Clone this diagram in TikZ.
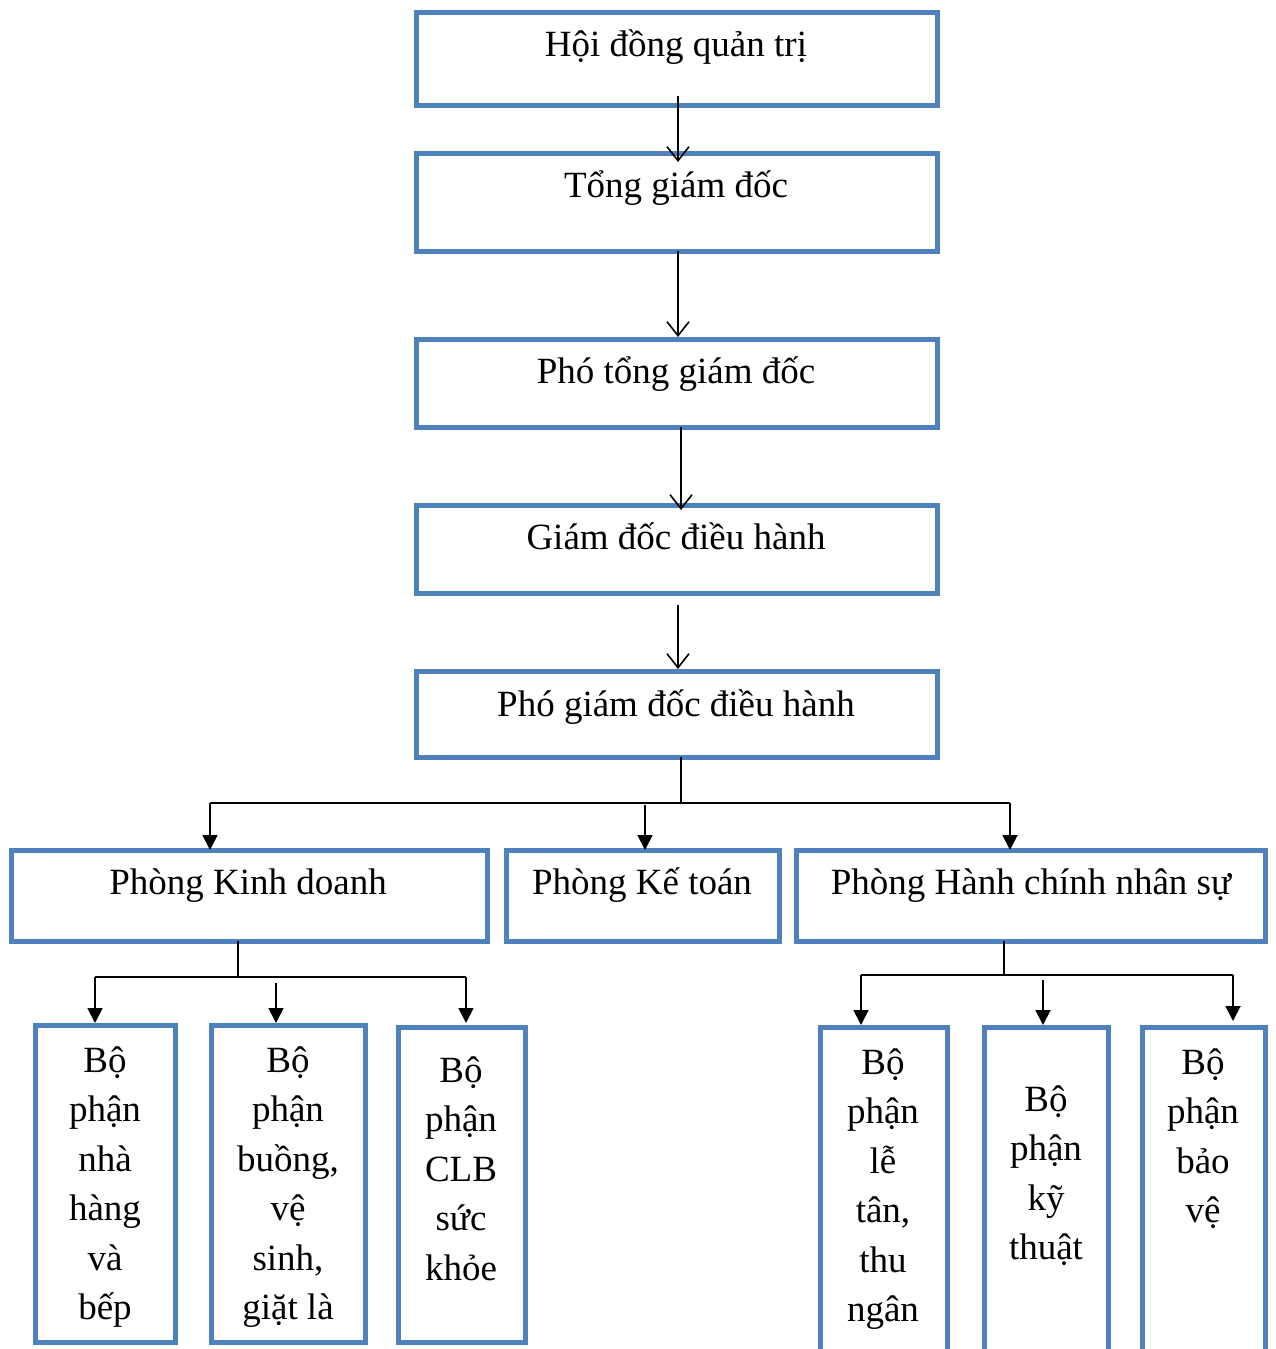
\documentclass[tikz,border=0pt]{standalone}
\usepackage{fontspec}
\setmainfont{Liberation Serif}
\usetikzlibrary{arrows.meta}
\definecolor{boxblue}{HTML}{4F81BD}
\newcommand\vstack[1]{\begin{tabular}[t]{@{}c@{}}#1\end{tabular}}
\begin{document}
\begin{tikzpicture}[x=1pt,y=-1pt,
  box/.style={draw=boxblue,line width=5pt,anchor=north west,inner sep=0pt,outer sep=0pt},
  txt/.style={font=\fontsize{37}{49.5}\selectfont,inner sep=0pt,anchor=base},
  conn/.style={line width=1.8pt,black},
  openarr/.style={conn,-{Straight Barb[length=14pt,width=22pt,line width=1.6pt]}},
  fillarr/.style={conn,-{Triangle[length=15pt,width=15pt]}}]
\useasboundingbox (0,0) rectangle (1275,1349);
\clip (0,0) rectangle (1275,1349);
% top chain
\node[box,minimum width=521pt,minimum height=93pt] (b1) at (416,12) {};
\node[box,minimum width=521pt,minimum height=98pt] (b2) at (416,153) {};
\node[box,minimum width=521pt,minimum height=88pt] (b3) at (416,339) {};
\node[box,minimum width=521pt,minimum height=88pt] (b4) at (416,505) {};
\node[box,minimum width=521pt,minimum height=86pt] (b5) at (416,671) {};
% departments
\node[box,minimum width=476pt,minimum height=91pt] (pkd) at (11,850) {};
\node[box,minimum width=273pt,minimum height=91pt] (pkt) at (506,850) {};
\node[box,minimum width=469pt,minimum height=91pt] (phc) at (796,850) {};
% sections
\node[box,minimum width=140pt,minimum height=317pt] (bA) at (35,1025) {};
\node[box,minimum width=154pt,minimum height=317pt] (bB) at (211,1025) {};
\node[box,minimum width=127pt,minimum height=315pt] (bC) at (398,1027) {};
\node[box,minimum width=127pt,minimum height=340pt] (bD) at (820,1027) {};
\node[box,minimum width=124pt,minimum height=340pt] (bE) at (984,1027) {};
\node[box,minimum width=123pt,minimum height=340pt] (bF) at (1142,1027) {};
% texts
\node[txt] (t1) at (676,56) {Hội đồng quản trị};
\node[txt] (t2) at (676,197) {Tổng giám đốc};
\node[txt] (t3) at (676,383) {Phó tổng giám đốc};
\node[txt] (t4) at (676,549) {Giám đốc điều hành};
\node[txt] (t5) at (676,716) {Phó giám đốc điều hành};
\node[txt] (tkd) at (248,894) {Phòng Kinh doanh};
\node[txt] (tkt) at (642,894) {Phòng Kế toán};
\node[txt] (thc) at (1031,894) {Phòng Hành chính nhân sự};
\node[txt] (tA) at (105,1072) {\vstack{Bộ\\phận\\nhà\\hàng\\và\\bếp}};
\node[txt] (tB) at (288,1072) {\vstack{Bộ\\phận\\buồng,\\vệ\\sinh,\\giặt là}};
\node[txt] (tC) at (461,1082) {\vstack{Bộ\\phận\\CLB\\sức\\khỏe}};
\node[txt] (tD) at (883,1074) {\vstack{Bộ\\phận\\lễ\\tân,\\thu\\ngân}};
\node[txt] (tE) at (1046,1111) {\vstack{Bộ\\phận\\kỹ\\thuật}};
\node[txt] (tF) at (1203,1074) {\vstack{Bộ\\phận\\bảo\\vệ}};
% top connectors
\draw[openarr] ([xshift=1.5pt,yshift=9pt]b1.south) -- ([xshift=1.5pt,yshift=-9pt]b2.north);
\draw[openarr] ([xshift=1.5pt]b2.south) -- ([xshift=1.5pt,yshift=2pt]b3.north);
\draw[openarr] ([xshift=4.5pt]b3.south) -- ([xshift=4.5pt,yshift=-5pt]b4.north);
\draw[openarr] ([xshift=1.5pt,yshift=-12pt]b4.south) -- ([xshift=1.5pt,yshift=2pt]b5.north);
% to departments
\coordinate (j1) at (681,803);
\coordinate (j1L) at (210,803);
\coordinate (j1R) at (1010,803);
\draw[conn] ([xshift=4.5pt]b5.south) -- (j1);
\draw[conn] (j1L) -- (j1R);
\draw[fillarr] (j1L) -- (j1L |- pkd.north);
\draw[fillarr] ([xshift=2.5pt,yshift=-2pt]j1 -| pkt.north) -- ([xshift=2.5pt]pkt.north);
\draw[fillarr] (j1R) -- (j1R |- phc.north);
% Kinh doanh branch
\coordinate (j2) at (238,977);
\coordinate (j2L) at (95,977);
\coordinate (j2R) at (466,977);
\coordinate (j2M) at (276,983);
\draw[conn] (j2 |- pkd.south) -- (j2);
\draw[conn] (j2L) -- (j2R);
\draw[fillarr] (j2L) -- ([yshift=2pt]j2L |- bA.north);
\draw[fillarr] (j2M) -- ([yshift=2pt]j2M |- bB.north);
\draw[fillarr] (j2R) -- ([yshift=4pt]j2R |- bC.north);
% Hanh chinh branch
\coordinate (j3) at (1004,975);
\coordinate (j3L) at (861,975);
\coordinate (j3R) at (1233,975);
\coordinate (j3M) at (1043,980);
\draw[conn] (j3 |- phc.south) -- (j3);
\draw[conn] (j3L) -- (j3R);
\draw[fillarr] (j3L) -- ([yshift=2pt]j3L |- bD.north);
\draw[fillarr] (j3M) -- ([yshift=2pt]j3M |- bE.north);
\draw[fillarr] (j3R) -- ([yshift=6pt]j3R |- bF.north);
\end{tikzpicture}
\end{document}
